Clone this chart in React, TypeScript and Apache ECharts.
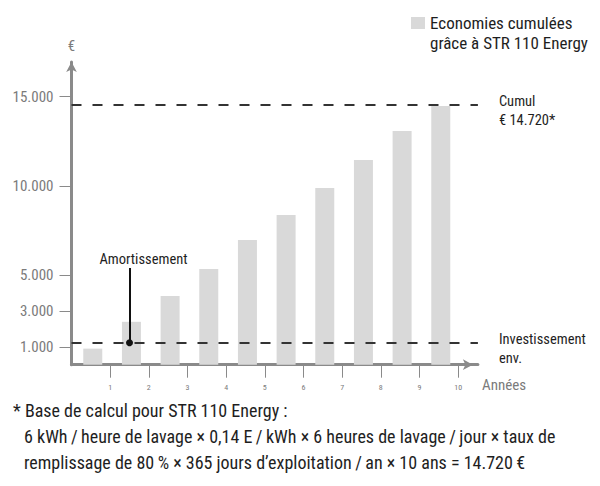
import React, { useEffect, useRef } from "react";
import * as echarts from "echarts";

const years = [1, 2, 3, 4, 5, 6, 7, 8, 9, 10];
const savings = [900, 2400, 3850, 5350, 6980, 8380, 9890, 11460, 13080, 14480];
const yTickValues = [1000, 3000, 5000, 10000, 15000];
const cumulLevel = 14550;
const investLevel = 1230;
const amortYear = 1.5;
const amortLabelLevel = 5410;
const seriesName = "Economies cumulées grâce à STR 110 Energy";
const cumulLabel = ["Cumul", "€ 14.720*"];
const investLabel = ["Investissement", "env."];
const footnote = [
  "* Base de calcul pour STR 110 Energy :",
  "6 kWh\u2009/\u2009heure de lavage × 0,14 E\u2009/\u2009kWh × 6 heures de lavage\u2009/\u2009jour × taux de",
  "remplissage de 80\u2009% × 365 jours d’exploitation\u2009/\u2009an × 10 ans = 14.720\u2009€",
];

const FF = "'Liberation Sans Narrow', 'Roboto Condensed', 'DejaVu Sans Condensed', 'Liberation Sans', sans-serif";
const DARK = "#1e1e1e";
const GREY = "#7b7b7b";
const AXIS = "#8a8a8a";
const BAR = "#d9d9d9";

export default function App() {
  const ref = useRef<HTMLDivElement>(null);
  useEffect(() => {
    if (!ref.current) return;
    const chart = echarts.init(ref.current, null, { renderer: "svg" });
    const fmt = (v: number) => v.toLocaleString("de-DE");
    const sideLabel = (lines: string[]) => ({
      position: "end",
      distance: 21,
      formatter: lines.join("\n"),
      color: DARK,
      fontSize: 14.5,
      lineHeight: 19,
      fontFamily: FF,
      offset: [0, 6],
      align: "left",
    });
    chart.setOption({
      animation: false,
      textStyle: { fontFamily: FF },
      legend: {
        left: 411,
        top: 13,
        padding: 0,
        itemWidth: 14,
        itemHeight: 32,
        icon: "path://M0,0 L14,0 L14,12 L0,12 Z M0,32 L14,32 Z",
        formatter: (n: string) => n.replace(" grâce", "\ngrâce"),
        textStyle: { fontFamily: FF, fontSize: 17, color: DARK, lineHeight: 20 },
        data: [seriesName],
      },
      grid: { left: 71.5, right: 122.1, top: 62, bottom: 121.3 },
      xAxis: {
        type: "value",
        min: 0,
        max: 10.51,
        interval: 1,
        splitLine: { show: false },
        axisLine: {
          show: true,
          lineStyle: { color: AXIS, width: 3 },
          symbol: ["none", "arrow"],
          symbolSize: [8, 10],
          symbolOffset: [0, -5],
        },
        axisTick: { show: true, length: 13, lineStyle: { color: AXIS, width: 1 }, customValues: years },
        axisLabel: { customValues: years, fontSize: 8, color: GREY, margin: 19, fontFamily: FF },
      },
      yAxis: {
        type: "value",
        min: 0,
        max: 16940,
        name: "€",
        nameLocation: "end",
        nameGap: 9,
        nameTextStyle: { color: GREY, fontSize: 15, fontFamily: FF, align: "center" },
        splitLine: { show: false },
        axisLine: { show: true, lineStyle: { color: AXIS, width: 3 }, symbol: ["none", "arrow"], symbolSize: [8, 10] },
        axisTick: { show: true, length: 12, lineStyle: { color: AXIS, width: 1 }, customValues: yTickValues },
        axisLabel: { customValues: yTickValues, formatter: fmt, fontSize: 15, color: GREY, margin: 18, fontFamily: FF },
      },
      series: [
        {
          name: seriesName,
          type: "bar",
          barWidth: 19,
          itemStyle: { color: BAR },
          data: years.map((y, i) => [y - 0.45, savings[i]]),
          markLine: {
            silent: true,
            symbol: ["none", "none"],
            animation: false,
            data: [
              {
                yAxis: cumulLevel,
                lineStyle: { color: "#333", width: 2, type: [10, 11] },
                label: sideLabel(cumulLabel),
              },
              {
                yAxis: investLevel,
                lineStyle: { color: "#333", width: 2, type: [10, 11] },
                label: sideLabel(investLabel),
              },
              [
                {
                  coord: [amortYear, investLevel],
                  symbol: "circle",
                  symbolSize: 7,
                  lineStyle: { color: "#111", width: 2, type: "solid" },
                  itemStyle: { color: "#111" },
                  label: {
                    position: "end",
                    distance: 2,
                    offset: [14, 1],
                    formatter: "Amortissement",
                    color: DARK,
                    fontSize: 14.5,
                    fontFamily: FF,
                  },
                },
                { coord: [amortYear, amortLabelLevel], symbol: "none" },
              ],
            ],
          },
        },
      ],
      graphic: [
        {
          type: "text",
          left: 482,
          top: 377,
          style: { text: "Années", fill: GREY, fontSize: 15, fontFamily: FF },
        },
        ...footnote.map((t, i) => ({
          type: "text",
          left: i === 0 ? 13 : 24,
          top: 401 + i * 26,
          style: { text: t, fill: DARK, fontSize: 18, fontFamily: FF },
        })),
      ],
    });
    return () => chart.dispose();
  }, []);
  return <div ref={ref} style={{ position: "fixed", left: 0, top: 0, width: 600, height: 486, background: "#fff" }} />;
}
